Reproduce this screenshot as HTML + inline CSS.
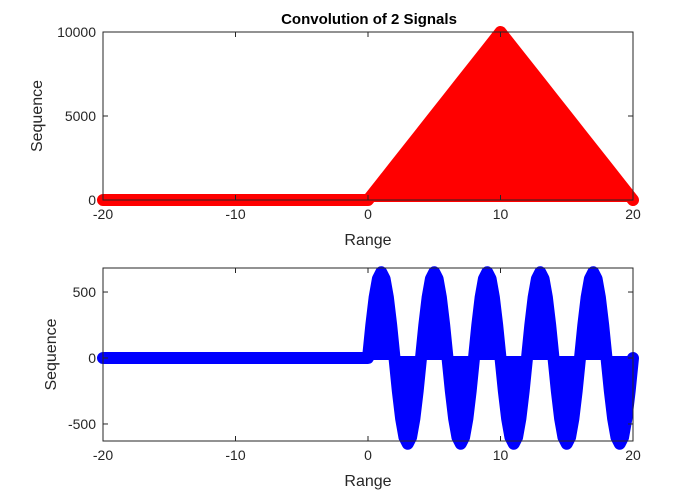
<!DOCTYPE html>
<html><head><meta charset="utf-8"><style>
body{margin:0;background:#fff}
svg{display:block;font-family:"Liberation Sans",sans-serif}
</style></head><body>
<svg id="c" width="673" height="499"></svg>
<script>
const topX=[-20,-19,-18,-17,-16,-15,-14,-13,-12,-11,-10,-9,-8,-7,-6,-5,-4,-3,-2,-1,0,1,2,3,4,5,6,7,8,9,10,11,12,13,14,15,16,17,18,19,20];
const topY=[0,0,0,0,0,0,0,0,0,0,0,0,0,0,0,0,0,0,0,0,0,1000,2000,3000,4000,5000,6000,7000,8000,9000,10000,9000,8000,7000,6000,5000,4000,3000,2000,1000,0];
const botX=[-20,-0.25,0,0.25,0.5,0.75,1,1.25,1.5,1.75,2,2.25,2.5,2.75,3,3.25,3.5,3.75,4,4.25,4.5,4.75,5,5.25,5.5,5.75,6,6.25,6.5,6.75,7,7.25,7.5,7.75,8,8.25,8.5,8.75,9,9.25,9.5,9.75,10,10.25,10.5,10.75,11,11.25,11.5,11.75,12,12.25,12.5,12.75,13,13.25,13.5,13.75,14,14.25,14.5,14.75,15,15.25,15.5,15.75,16,16.25,16.5,16.75,17,17.25,17.5,17.75,18,18.25,18.5,18.75,19,19.25,19.5,19.75,20];
const botY=[0,0,0,249,460,601,650,601,460,249,0,-249,-460,-601,-650,-601,-460,-249,0,249,460,601,650,601,460,249,0,-249,-460,-601,-650,-601,-460,-249,0,249,460,601,650,601,460,249,0,-249,-460,-601,-650,-601,-460,-249,0,249,460,601,650,601,460,249,0,-249,-460,-601,-650,-601,-460,-249,0,249,460,601,650,601,460,249,0,-249,-460,-601,-650,-601,-460,-249,0];
const xTicks=[-20,-10,0,10,20];
const topTicks=[0,5000,10000];
const botTicks=[-500,0,500];
const NS="http://www.w3.org/2000/svg";
const svg=document.getElementById('c');
function mk(t,a,p){const e=document.createElementNS(NS,t);for(const k in a)e.setAttribute(k,a[k]);(p||svg).appendChild(e);return e;}
const L=103,R=633;
const sx=v=>L+(v+20)/40*(R-L);
function panel(name,top,bot,y0,y1,xs,ys,col,yt,title){
  const sy=v=>bot-(v-y0)/(y1-y0)*(bot-top);
  const g=mk('g',{});
  
  
  const y0p=sy(0);
  let d='M'+sx(xs[0])+','+y0p;
  xs.forEach((x,i)=>d+=' L'+sx(x)+','+sy(ys[i]));
  d+=' L'+sx(xs[xs.length-1])+','+y0p+' Z';
  const area=mk('path',{d:d,fill:col},g);
  
  
  let pl=xs.map((x,i)=>sx(x)+','+sy(ys[i])).join(' ');
  const mline=mk('polyline',{points:pl,fill:'none',stroke:col,'stroke-width':12,'stroke-linejoin':'round','stroke-linecap':'round'},g);
  
  
  mk('line',{x1:sx(xs[0]),x2:sx(xs[xs.length-1]),y1:y0p,y2:y0p,stroke:col,'stroke-width':4},g);
  const box=mk('rect',{x:L,y:top,width:R-L,height:bot-top,fill:'none',stroke:'#262626','stroke-width':1},g);
  
  
  xTicks.forEach(t=>{
    mk('line',{x1:sx(t),x2:sx(t),y1:bot,y2:bot-5,stroke:'#262626'},g);
    mk('line',{x1:sx(t),x2:sx(t),y1:top,y2:top+5,stroke:'#262626'},g);
    const tx=mk('text',{x:sx(t),y:bot+19,'text-anchor':'middle','font-size':14,fill:'#262626'},g);
    tx.textContent=t;
    
    
  });
  yt.forEach(t=>{
    mk('line',{x1:L,x2:L+5,y1:sy(t),y2:sy(t),stroke:'#262626'},g);
    mk('line',{x1:R,x2:R-5,y1:sy(t),y2:sy(t),stroke:'#262626'},g);
    const tx=mk('text',{x:L-7,y:sy(t)+5,'text-anchor':'end','font-size':14,fill:'#262626'},g);
    tx.textContent=t;
    
    
  });
  const xl=mk('text',{x:(L+R)/2,y:bot+45,'text-anchor':'middle','font-size':16,fill:'#262626'},g);
  xl.textContent='Range';
  
  
  const yc=(top+bot)/2;
  const yx=name==='top-plot'?42:56;
  const yl=mk('text',{x:yx,y:yc,'text-anchor':'middle','font-size':16,fill:'#262626',transform:'rotate(-90 '+yx+' '+yc+')'},g);
  yl.textContent='Sequence';
  
  
  if(title){
    const tt=mk('text',{x:(L+R)/2+1,y:top-8,'text-anchor':'middle','font-size':15,'font-weight':'bold',fill:'#000'},g);
    tt.textContent=title;
    
    
  }
}
panel('top-plot',32,200,0,10000,topX,topY,'#ff0000',topTicks,'Convolution of 2 Signals');
panel('bottom-plot',268,441,-629,682,botX,botY,'#0000ff',botTicks,null);
</script>
</body></html>
